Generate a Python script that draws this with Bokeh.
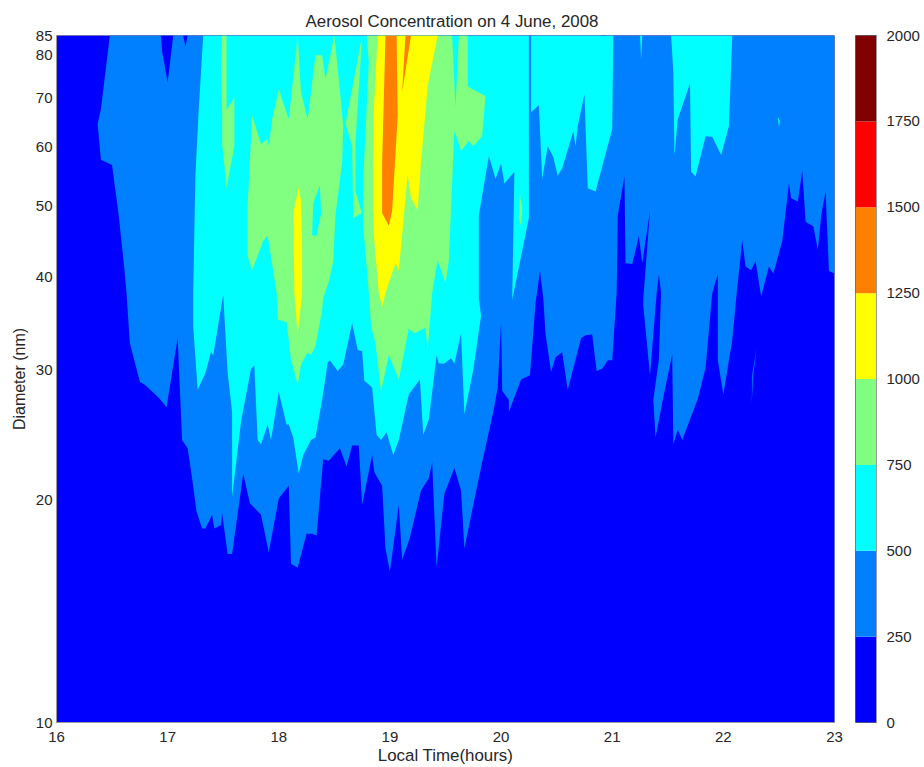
from bokeh.embed import file_html
from bokeh.layouts import row
from bokeh.models import FixedTicker, PrintfTickFormatter, Title
from bokeh.plotting import figure
from bokeh.resources import INLINE

TITLE = "Aerosol Concentration on 4 June, 2008"
XLABEL = "Local Time(hours)"
YLABEL = "Diameter (nm)"
TIME_TICKS = [16, 17, 18, 19, 20, 21, 22, 23]
DIAM_TICKS = [10, 20, 30, 40, 50, 60, 70, 80, 85]
LEVELS = [0, 250, 500, 750, 1000, 1250, 1500, 1750, 2000]
BAND_COLORS = ["#0000FF", "#0080FF", "#00FFFF", "#80FF80", "#FFFF00", "#FF8000", "#FF0000", "#800000"]

# level 0 covers the whole domain
base_t = [16, 23, 23, 16]
base_d = [10, 10, 85, 85]

# level 250 (everything above the dark-blue region)
c250_t = [16.48, 16.40, 16.37, 16.40, 16.50, 16.56, 16.61, 16.63, 16.66, 16.75, 16.80, 16.92, 16.99, 17.09, 17.13,
          17.18, 17.22, 17.26, 17.31, 17.34, 17.40, 17.42, 17.48, 17.49, 17.54, 17.58, 17.68, 17.74, 17.84, 17.91,
          18.00, 18.09, 18.11, 18.17, 18.25, 18.30, 18.34, 18.40, 18.45, 18.55, 18.61, 18.66, 18.72, 18.75, 18.84,
          18.86, 18.93, 18.96, 19.00, 19.08, 19.11, 19.18, 19.28, 19.35, 19.38, 19.42, 19.49, 19.58, 19.64, 19.67,
          19.75, 19.83, 19.93, 19.97, 20.00, 20.01, 20.07, 20.07, 20.18, 20.26, 20.31, 20.35, 20.38, 20.40, 20.45,
          20.49, 20.55, 20.60, 20.72, 20.76, 20.82, 20.86, 20.91, 20.96, 21.00, 21.04, 21.05, 21.11, 21.12, 21.18,
          21.24, 21.27, 21.34, 21.28, 21.28, 21.34, 21.40, 21.42, 21.44, 21.42, 21.37, 21.39, 21.45, 21.54, 21.55,
          21.59, 21.63, 21.77, 21.84, 21.90, 21.95, 21.95, 22.00, 22.08, 22.12, 22.17, 22.20, 22.25, 22.29, 22.34,
          22.41, 22.45, 22.53, 22.59, 22.61, 22.67, 22.71, 22.74, 22.81, 22.85, 22.88, 22.92, 22.95, 23, 23]
c250_d = [85, 67.6, 64.5, 57.7, 56.8, 48.5, 41.2, 38.1, 32.6, 28.9, 28.6, 27.5, 26.7, 33.1, 24.1,
          23.5, 21.4, 19.3, 18.3, 18.3, 19.1, 18.3, 18.5, 19.2, 16.9, 16.9, 21.7, 19.8, 19.1, 17.0,
          20.1, 20.9, 16.4, 16.2, 18.0, 18.0, 17.9, 22.7, 22.6, 23.5, 22.2, 23.7, 23.7, 19.7, 23.0,
          21.8, 20.9, 17.2, 16.0, 19.7, 16.6, 17.8, 20.6, 21.4, 22.5, 16.2, 20.4, 22.1, 20.6, 17.2,
          19.7, 22.5, 26.3, 28.4, 34.7, 28.1, 27.3, 26.3, 29.1, 29.5, 36.9, 40.8, 37.5, 33.6, 29.8,
          31.2, 31.7, 28.2, 33.1, 33.4, 33.5, 29.9, 30.1, 30.9, 30.9, 38.1, 48.5, 54.8, 41.8, 41.7,
          45.5, 41.8, 49.2, 37.5, 36.6, 29.5, 38.1, 40.4, 38.1, 31.0, 27.3, 24.3, 27.1, 31.5, 23.8,
          24.9, 24.1, 27.4, 30.2, 38.1, 40.4, 30.9, 27.8, 32.9, 38.1, 44.9, 41.4, 40.9, 42.1, 37.7,
          41.4, 40.5, 44.8, 53.6, 51.2, 50.7, 55.8, 47.6, 46.9, 43.6, 48.5, 52.3, 40.8, 40.5, 85]

# pockets below 250 near the top edge
low1_t = [16.94, 16.95, 17.00, 17.05]
low1_d = [85, 80.9, 73.5, 85]
low2_t = [17.14, 17.16, 17.18]
low2_d = [85, 82.1, 85]
low3_t = [20.90, 20.92, 20.94]
low3_d = [85, 83.7, 85]

# isolated sliver above 250
sliver_t = [22.30, 22.27, 22.255, 22.26]
sliver_d = [32.1, 29.6, 27.0, 29.6]

# level 500
c500_t = [17.32, 17.28, 17.25, 17.23, 17.23, 17.27, 17.34, 17.39, 17.41, 17.50, 17.54, 17.58, 17.58, 17.66, 17.75,
          17.78, 17.81, 17.84, 17.90, 17.93, 18.00, 18.07, 18.09, 18.13, 18.18, 18.22, 18.29, 18.33, 18.39, 18.44,
          18.46, 18.53, 18.58, 18.66, 18.71, 18.75, 18.77, 18.84, 18.88, 18.92, 18.97, 19.03, 19.08, 19.17, 19.27,
          19.30, 19.35, 19.42, 19.44, 19.49, 19.55, 19.58, 19.64, 19.67, 19.75, 19.82, 19.80, 19.80, 19.89, 19.95,
          20.00, 20.03, 20.12, 20.10, 20.25, 20.25, 20.27, 20.27, 20.34, 20.37, 20.42, 20.47, 20.51, 20.55, 20.65,
          20.67, 20.69, 20.75, 20.78, 20.85, 21.00, 21.01]
c500_d = [85, 67.6, 55.0, 38.1, 34.4, 28.2, 29.7, 31.7, 31.4, 37.9, 29.7, 26.3, 20.2, 25.5, 30.1,
          30.4, 24.1, 23.8, 25.3, 24.1, 28.0, 25.3, 25.3, 24.3, 21.7, 23.0, 24.1, 24.3, 27.3, 30.7,
          30.9, 29.9, 30.5, 34.7, 31.9, 31.8, 29.0, 28.4, 24.5, 24.1, 24.7, 23.0, 24.1, 27.8, 29.1,
          24.5, 25.7, 31.4, 30.6, 30.6, 31.1, 30.6, 33.6, 26.1, 30.0, 35.5, 37.5, 48.5, 58.4, 54.4,
          57.0, 53.6, 55.6, 37.3, 48.1, 85, 85, 66.9, 68.4, 54.4, 60.2, 58.2, 54.9, 56.2, 63.1,
          60.2, 64.1, 70.8, 52.8, 52.3, 63.5, 85]
c500b_t = [21.53, 21.55, 21.56, 21.59, 21.70, 21.71, 21.75, 21.84, 21.90, 21.98, 22.05, 22.08]
c500b_d = [85, 75.8, 58.4, 65.5, 73.2, 55.6, 54.8, 62.1, 62.0, 58.6, 64.1, 85]
c500c_t = [21.25, 21.26, 21.27]
c500c_d = [85, 78.9, 85]
c500d_t = [22.49, 22.50, 22.51]
c500d_d = [66, 63.9, 65]

# level 750
c750a_t = [17.49, 17.48, 17.49, 17.49, 17.53, 17.60, 17.60, 17.53, 17.53]
c750a_d = [85, 77.7, 66.6, 60.6, 52.8, 60.2, 70, 67.4, 85]
c750b_t = [17.76, 17.84, 17.90, 17.91, 17.94, 18.00, 18.09, 18.17, 18.20, 18.26, 18.33, 18.39, 18.42, 18.50, 18.54,
           18.58, 18.57, 18.51, 18.49, 18.45, 18.40, 18.39, 18.33, 18.29, 18.26, 18.20, 18.17, 18.11, 18.07, 17.99,
           17.98, 17.90, 17.86, 17.76, 17.72, 17.72]
c750b_d = [66.2, 60.6, 61.6, 60.2, 65.5, 71.9, 65.5, 85, 71.3, 65.5, 79.9, 79.9, 74.2, 85, 74.2,
           64.1, 57.3, 48.5, 42.0, 39.5, 37.5, 36.1, 32.3, 31.4, 31.7, 30.5, 28.6, 31.0, 34.8, 35.1,
           38.1, 45.6, 44.8, 40.9, 42.7, 50.1]
c750c_t = [18.75, 18.60, 18.66, 18.67, 18.75, 18.69, 18.69]
c750c_d = [85, 64.5, 60.2, 48.1, 48.9, 52.3, 60.9]
c750d_t = [18.79, 18.81, 18.76, 18.76, 18.81, 18.83, 18.87, 18.92, 18.99, 19.08, 19.17, 19.22, 19.32, 19.34, 19.38,
           19.43, 19.50, 19.53, 19.58, 19.64, 19.71, 19.75, 19.83, 19.86, 19.73, 19.70, 19.70, 19.62, 19.59, 19.56]
c750d_d = [85, 78.2, 54.4, 46.8, 38.1, 34.4, 32.6, 28.0, 31.4, 29.1, 34.1, 33.6, 34.2, 31.9, 38.1,
           42.2, 39.3, 42.1, 63.2, 59.3, 61.2, 60.2, 62.1, 70.4, 72.1, 72.6, 85, 85, 68, 85]
c750e_t = [20.17, 20.16, 20.18, 20.19]
c750e_d = [51.7, 48.1, 47.0, 49.6]

# pocket below 750 inside the green area
hole750_t = [18.37, 18.31, 18.30, 18.34, 18.38]
hole750_d = [53.3, 50.4, 45.6, 45.6, 48.8]

# level 1000
c1000a_t = [18.18, 18.13, 18.14, 18.17, 18.21, 18.21, 18.20]
c1000a_d = [53, 48.9, 38.1, 33.6, 38.1, 44.5, 50.7]
c1000b_t = [18.89, 18.85, 18.85, 18.90, 18.93, 18.96, 19.05, 19.08, 19.16, 19.19, 19.25, 19.28, 19.34, 19.43]
c1000b_d = [85, 65.5, 46.6, 38.1, 36.5, 38.1, 41.8, 40.8, 55.0, 51.2, 49.3, 57.3, 72.6, 85]

# level 1250
c1250a_t = [18.96, 18.93, 18.93, 18.99, 19.02, 19.07, 19.06]
c1250a_d = [85, 57.3, 48.9, 47, 49.2, 66.2, 85]
c1250b_t = [19.14, 19.11, 19.19]
c1250b_d = [85, 71.3, 85]

REGIONS = [
    (base_t, base_d, 0), (c250_t, c250_d, 1), (low1_t, low1_d, 0), (low2_t, low2_d, 0), (low3_t, low3_d, 0),
    (sliver_t, sliver_d, 1), (c500_t, c500_d, 2), (c500b_t, c500b_d, 2), (c500c_t, c500c_d, 2), (c500d_t, c500d_d, 2),
    (c750a_t, c750a_d, 3), (c750b_t, c750b_d, 3), (c750c_t, c750c_d, 3), (c750d_t, c750d_d, 3), (c750e_t, c750e_d, 3),
    (hole750_t, hole750_d, 2), (c1000a_t, c1000a_d, 4), (c1000b_t, c1000b_d, 4),
    (c1250a_t, c1250a_d, 5), (c1250b_t, c1250b_d, 5),
]

FONT = "Liberation Sans"
TEXT = "#262626"
FRAME = "#9a9a9a"
HEIGHT = 767


def style_axis(ax):
    ax.axis_line_color = FRAME
    ax.major_tick_line_color = None
    ax.minor_tick_line_color = None
    ax.major_tick_in = 0
    ax.major_tick_out = 0
    ax.minor_tick_in = 0
    ax.minor_tick_out = 0
    ax.major_label_text_font = FONT
    ax.major_label_text_font_size = "15px"
    ax.major_label_text_color = TEXT
    ax.axis_label_text_font = FONT
    ax.axis_label_text_font_size = "16px"
    ax.axis_label_text_font_style = "normal"
    ax.axis_label_text_color = TEXT


p = figure(width=844, height=HEIGHT, x_range=(16, 23), y_range=(10, 85), y_axis_type="log",
           output_backend="svg", toolbar_location=None,
           min_border_left=56, min_border_right=10, min_border_top=31, min_border_bottom=45,
           x_axis_label=XLABEL, y_axis_label=YLABEL)
p.grid.visible = False
p.outline_line_color = FRAME
for ax in (p.xaxis[0], p.yaxis[0]):
    style_axis(ax)
p.xaxis.ticker = FixedTicker(ticks=TIME_TICKS)
p.yaxis.ticker = FixedTicker(ticks=DIAM_TICKS, minor_ticks=[])
p.yaxis.formatter = PrintfTickFormatter(format="%d")
p.xaxis.major_label_standoff = 9
p.yaxis.major_label_standoff = 4
p.xaxis.axis_label_standoff = 1
p.yaxis.axis_label_standoff = 5
p.xaxis.axis_label_text_font_size = "16.9px"

p.patches(xs=[r[0] for r in REGIONS], ys=[r[1] for r in REGIONS],
          fill_color=[BAND_COLORS[r[2]] for r in REGIONS], line_color=None)

p.add_layout(Title(text=TITLE, align="left", offset=249, vertical_align="top", standoff=6, text_font=FONT,
                   text_font_size="16.9px", text_font_style="normal", text_color=TEXT), "above")
p.add_layout(Title(text=" ", text_font_size="1px", standoff=5), "above")

cb = figure(width=78, height=HEIGHT, x_range=(0, 1), y_range=(LEVELS[0], LEVELS[-1]),
            output_backend="svg", toolbar_location=None, y_axis_location="right",
            min_border_left=11, min_border_right=39, min_border_top=31, min_border_bottom=45)
cb.grid.visible = False
cb.xaxis.visible = False
cb.outline_line_color = "#666666"
style_axis(cb.yaxis[0])
cb.yaxis.ticker = FixedTicker(ticks=LEVELS)
cb.yaxis.major_label_standoff = 10
cb.quad(left=0, right=1, bottom=LEVELS[:-1], top=LEVELS[1:], fill_color=BAND_COLORS, line_color=None)

layout = row(p, cb, spacing=0)
open("out.html", "w").write(file_html(layout, INLINE))
